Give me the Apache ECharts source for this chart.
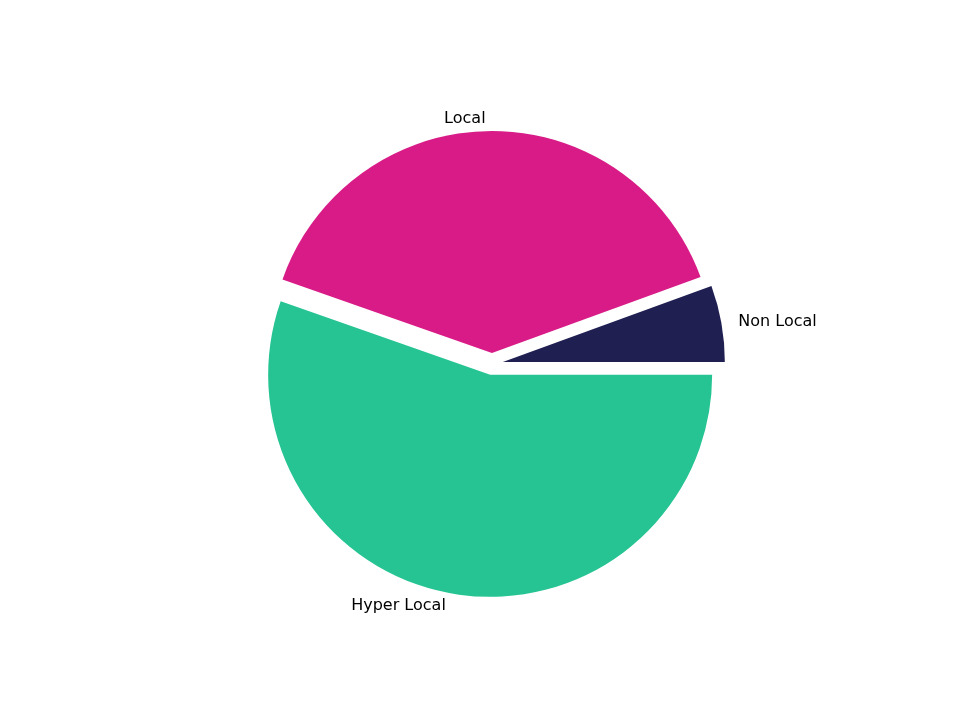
<!DOCTYPE html>
<html><head><meta charset="utf-8">
<script src="https://cdn.jsdelivr.net/npm/echarts@6/dist/echarts.min.js"></script>
<style>html,body{margin:0;background:#fff}#c{width:960px;height:720px}</style>
</head><body><div id="c"></div>
<script>
const categories = ['Non Local', 'Local', 'Hyper Local'];
const values = [5.56, 39.06, 55.37];
const colors = ['#1f1f52', '#d81b87', '#25c492'];
const chart = echarts.init(document.getElementById('c'));
const mk = (show) => categories.map((n, i) => ({name: n, value: values[i], selected: true,
  itemStyle: {color: colors[i], opacity: show ? 1 : 0}}));
const base = {type: 'pie', center: [492, 364], radius: [0, 222], startAngle: 0, clockwise: false,
  selectedMode: 'multiple', selectedOffset: 11, animation: false, emphasis: {disabled: true}};
chart.setOption({
  series: [
    Object.assign({}, base, {data: mk(true),
      label: {show: true, position: 'outside', formatter: '{b}', color: '#000', fontSize: 16,
        fontFamily: 'DejaVu Sans'},
      labelLine: {show: false, length: 12, length2: 0}}),
    Object.assign({}, base, {data: mk(false), silent: true, radius: [0, 266],
      label: {show: true, position: 'inside', formatter: p => p.value.toFixed(2) + '%', color: '#000',
        fontSize: 16, fontFamily: 'DejaVu Sans'},
      labelLine: {show: false}})
  ]
});
</script></body></html>
